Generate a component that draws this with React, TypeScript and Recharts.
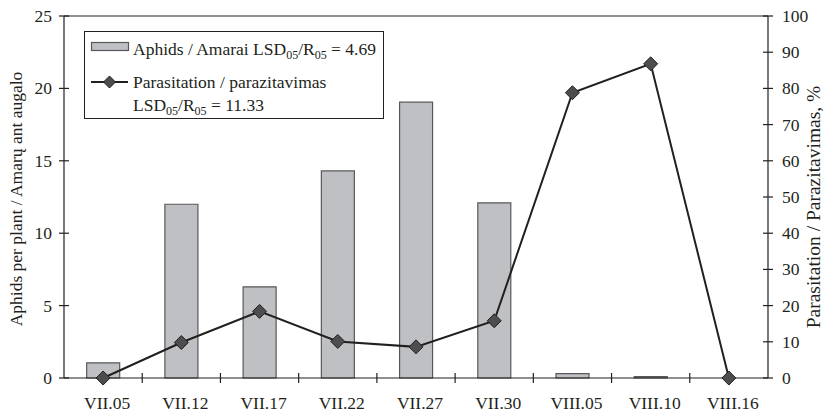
import { ComposedChart, Bar, Line, XAxis, YAxis, ReferenceLine, Legend } from 'recharts';

// sampling dates and measured values
const dates = ['VII.05', 'VII.12', 'VII.17', 'VII.22', 'VII.27', 'VII.30', 'VIII.05', 'VIII.10', 'VIII.16'];
const aphids = [1.05, 12.0, 6.3, 14.3, 19.05, 12.1, 0.3, 0.1, 0];
const parasitation = [0, 9.8, 18.4, 10.1, 8.6, 15.8, 78.8, 86.8, 0];

const leftTicks = [0, 5, 10, 15, 20, 25];
const rightTicks = [0, 10, 20, 30, 40, 50, 60, 70, 80, 90, 100];

const data = dates.map((date, i) => ({ date, aphids: aphids[i], parasitation: parasitation[i] }));

const FONT = '"Liberation Serif", "Times New Roman", serif';
const FONT_SIZE = 17.5;
const INK = '#231f20';
const BAR_FILL = '#bfc0c4';
const BAR_STROKE = '#58585a';
const DOT_FILL = '#4d4d4f';

const W = 825;
const H = 412;
const LEFT_W = 64;
const RIGHT_W = 57;
const TOP = 16;
const X_H = 34;
const BAND = (W - LEFT_W - RIGHT_W) / dates.length;
const LEGEND_W = 300;
const LEGEND_H = 88;

const diamond = (cx: number, cy: number, r = 7) =>
  `${cx},${cy - r} ${cx + r},${cy} ${cx},${cy + r} ${cx - r},${cy}`;

const DiamondDot = (props: any) => {
  const { cx, cy } = props;
  if (cx == null || cy == null) return null;
  return <polygon points={diamond(cx, cy)} fill={DOT_FILL} stroke={INK} strokeWidth={1} />;
};

const DateTick = ({ x, y, payload, index }: any) => (
  <g>
    {index < dates.length - 1 && (
      <line x1={x + BAND / 2} x2={x + BAND / 2} y1={y - 5} y2={y + 5} stroke={INK} strokeWidth={1.2} />
    )}
    <text x={x + 4} y={y + 31} textAnchor="middle" fontFamily={FONT} fontSize={FONT_SIZE} fill={INK}>
      {payload.value}
    </text>
  </g>
);

const LeftTick = ({ x, y, payload }: any) => (
  <g>
    <line x1={x - 5} x2={x + 5} y1={y} y2={y} stroke={INK} strokeWidth={1.2} />
    <text x={x - 12} y={y + 6} textAnchor="end" fontFamily={FONT} fontSize={FONT_SIZE} fill={INK}>
      {payload.value}
    </text>
  </g>
);

const RightTick = ({ x, y, payload }: any) => (
  <g>
    <line x1={x - 5} x2={x + 5} y1={y} y2={y} stroke={INK} strokeWidth={1.2} />
    <text x={x + 14} y={y + 6} textAnchor="start" fontFamily={FONT} fontSize={FONT_SIZE} fill={INK}>
      {payload.value}
    </text>
  </g>
);

// "LSD05/R05" with lowered, smaller indices
const Lsd = () => (
  <>
    LSD<tspan dy={4} fontSize={12}>05</tspan>
    <tspan dy={-4}>/R</tspan>
    <tspan dy={4} fontSize={12}>05</tspan>
    <tspan dy={-4}> </tspan>
  </>
);

const LegendBox = () => (
  <svg width={LEGEND_W} height={LEGEND_H} style={{ display: 'block' }}>
    <rect x={0.5} y={0.5} width={LEGEND_W - 1} height={LEGEND_H - 1} fill="#fff" stroke={INK} strokeWidth={1} />
    <rect x={7.5} y={11.5} width={37} height={8} fill={BAR_FILL} stroke={BAR_STROKE} strokeWidth={1.2} />
    <text x={49} y={24} fontFamily={FONT} fontSize={FONT_SIZE} fill={INK}>
      Aphids / Amarai <Lsd />= 4.69
    </text>
    <line x1={7} x2={44} y1={51} y2={51} stroke={INK} strokeWidth={1.8} />
    <polygon points={diamond(25.5, 51, 6)} fill={DOT_FILL} stroke={INK} strokeWidth={1} />
    <text x={49} y={57} fontFamily={FONT} fontSize={FONT_SIZE} fill={INK}>
      Parasitation / parazitavimas
    </text>
    <text x={49} y={80} fontFamily={FONT} fontSize={FONT_SIZE} fill={INK}>
      <Lsd />= 11.33
    </text>
  </svg>
);

export default function App() {
  return (
    <div style={{ position: 'absolute', left: 0, top: 0, width: W, height: H, background: '#fff' }}>
      <ComposedChart width={W} height={H} data={data} margin={{ top: TOP, right: 0, bottom: 0, left: 0 }} barCategoryGap="29%">
        <XAxis
          dataKey="date"
          height={X_H}
          stroke={INK}
          strokeWidth={1.2}
          tickLine={false}
          tickSize={0}
          tickMargin={0}
          interval={0}
          tick={<DateTick />}
        />
        <YAxis
          yAxisId="left"
          orientation="left"
          width={LEFT_W}
          domain={[0, 25]}
          ticks={leftTicks}
          stroke={INK}
          strokeWidth={1.2}
          tickLine={false}
          tickSize={0}
          tickMargin={0}
          tick={<LeftTick />}
          label={{
            content: () => (
              <text
                transform="translate(22, 199) rotate(-90)"
                textAnchor="middle"
                fontFamily={FONT}
                fontSize={FONT_SIZE}
                fill={INK}
              >
                Aphids per plant / Amarų ant augalo
              </text>
            ),
          }}
        />
        <YAxis
          yAxisId="right"
          orientation="right"
          width={RIGHT_W}
          domain={[0, 100]}
          ticks={rightTicks}
          stroke={INK}
          strokeWidth={1.2}
          tickLine={false}
          tickSize={0}
          tickMargin={0}
          tick={<RightTick />}
          label={{
            content: () => (
              <text
                transform="translate(820, 207) rotate(-90)"
                textAnchor="middle"
                fontFamily={FONT}
                fontSize={19.5}
                fill={INK}
              >
                Parasitation / Parazitavimas, %
              </text>
            ),
          }}
        />
        <ReferenceLine yAxisId="left" y={25} stroke={INK} strokeWidth={1.2} />
        <Legend
          verticalAlign="middle"
          layout="horizontal"
          align="center"
          content={() => <LegendBox />}
          wrapperStyle={{ left: 84, top: 31, width: LEGEND_W, height: LEGEND_H }}
        />
        <Bar
          yAxisId="left"
          dataKey="aphids"
          fill={BAR_FILL}
          stroke={BAR_STROKE}
          strokeWidth={1.2}
          isAnimationActive={false}
        />
        <Line
          yAxisId="right"
          dataKey="parasitation"
          type="linear"
          stroke={INK}
          strokeWidth={2}
          dot={<DiamondDot />}
          activeDot={false}
          isAnimationActive={false}
        />
      </ComposedChart>
    </div>
  );
}
